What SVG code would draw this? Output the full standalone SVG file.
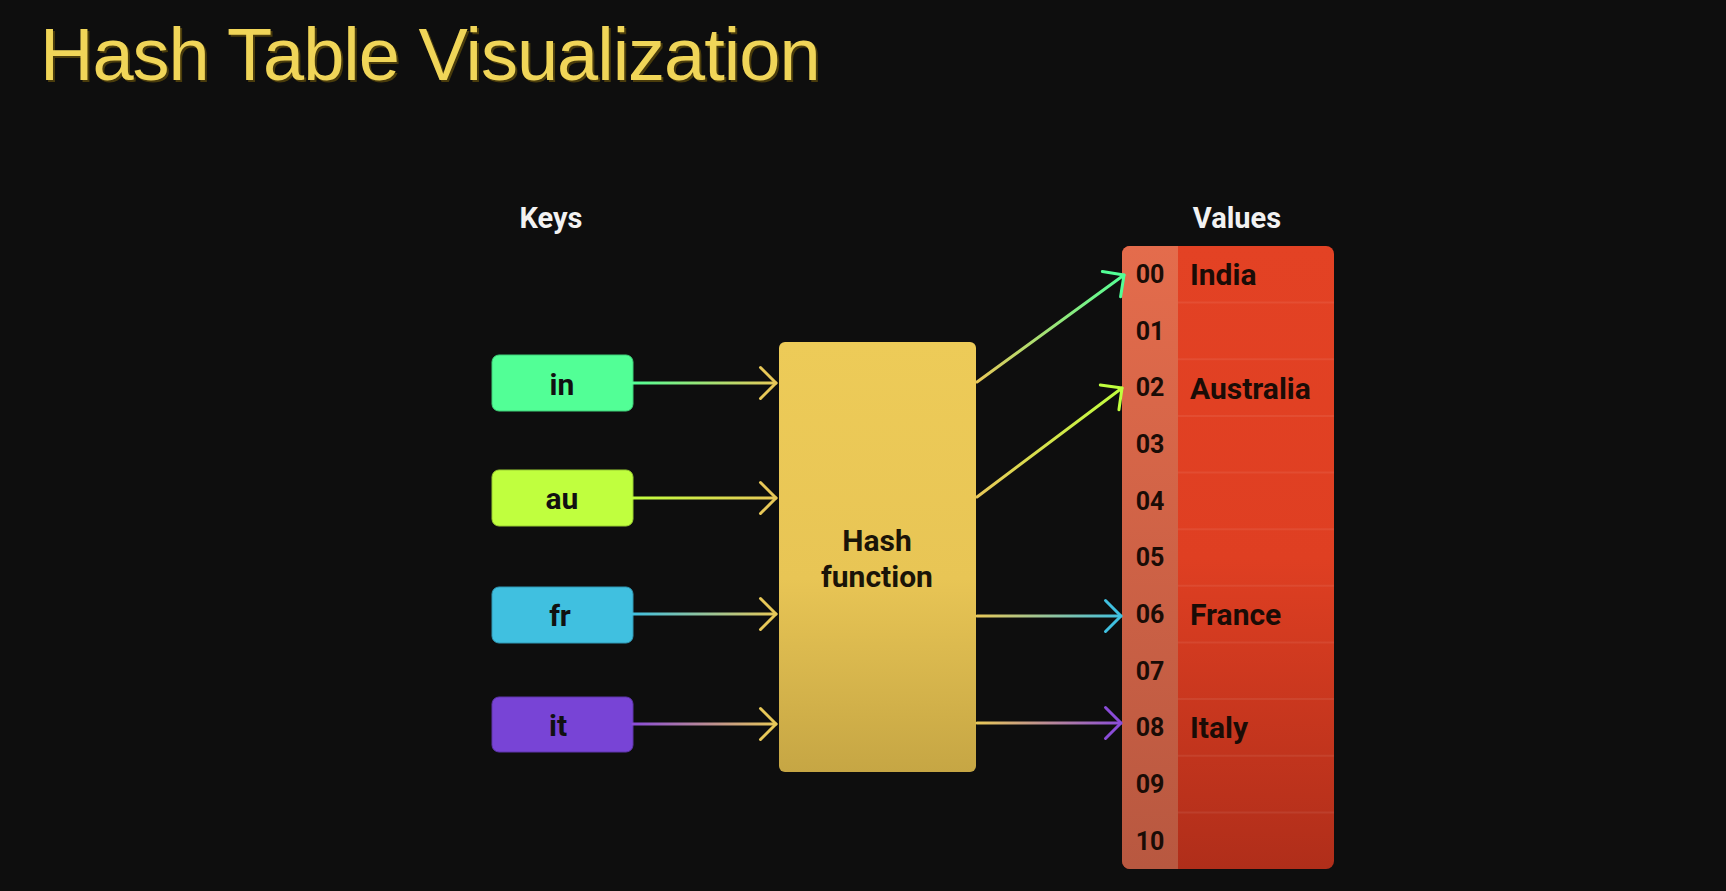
<svg xmlns="http://www.w3.org/2000/svg" width="1726" height="891" viewBox="0 0 1726 891">
<style>
.title{font-family:"Liberation Sans",Arial,sans-serif;font-size:74px;letter-spacing:-1px;}
.hdr{font-family:Roboto,"Noto Sans",sans-serif;font-weight:bold;font-size:29px;fill:#f2f2f2;text-anchor:middle;}
.key{font-family:Roboto,"Noto Sans",sans-serif;font-weight:bold;font-size:30px;fill:#111;text-anchor:middle;}
.hf{font-family:Roboto,"Noto Sans",sans-serif;font-weight:bold;font-size:30px;fill:#1a1408;text-anchor:middle;}
.idx{font-family:Roboto,"Noto Sans",sans-serif;font-weight:bold;font-size:25px;fill:#1a0c06;text-anchor:middle;}
.val{font-family:Roboto,"Noto Sans",sans-serif;font-weight:bold;font-size:30px;fill:#1a0c06;}
.ln{stroke-width:3;fill:none;stroke-linecap:round;}
.sep{stroke:#ffffff;stroke-opacity:0.07;stroke-width:2;}
</style>
<defs>
<linearGradient id="gHash" x1="0" y1="0" x2="0" y2="1"><stop offset="0" stop-color="#edcb58"/><stop offset="0.55" stop-color="#e8c555"/><stop offset="1" stop-color="#c6a644"/></linearGradient>
<linearGradient id="gIdx" x1="0" y1="0" x2="0" y2="1"><stop offset="0" stop-color="#e46c4c"/><stop offset="1" stop-color="#b85840"/></linearGradient>
<linearGradient id="gVal" x1="0" y1="0" x2="0" y2="1"><stop offset="0" stop-color="#e34224"/><stop offset="0.5" stop-color="#df3f22"/><stop offset="1" stop-color="#b02e1a"/></linearGradient>
<linearGradient id="l1" gradientUnits="userSpaceOnUse" x1="633" y1="0" x2="776" y2="0"><stop offset="0" stop-color="#52ff96"/><stop offset="1" stop-color="#e8c858"/></linearGradient>
<linearGradient id="l2" gradientUnits="userSpaceOnUse" x1="633" y1="0" x2="776" y2="0"><stop offset="0" stop-color="#c0ff3e"/><stop offset="1" stop-color="#e8c858"/></linearGradient>
<linearGradient id="l3" gradientUnits="userSpaceOnUse" x1="633" y1="0" x2="776" y2="0"><stop offset="0" stop-color="#40c0e0"/><stop offset="1" stop-color="#e8c858"/></linearGradient>
<linearGradient id="l4" gradientUnits="userSpaceOnUse" x1="633" y1="0" x2="776" y2="0"><stop offset="0" stop-color="#8a4cd8"/><stop offset="1" stop-color="#e8c858"/></linearGradient>
<linearGradient id="r1" gradientUnits="userSpaceOnUse" x1="977" y1="382" x2="1124" y2="275"><stop offset="0" stop-color="#e8c858"/><stop offset="1" stop-color="#52ff96"/></linearGradient>
<linearGradient id="r2" gradientUnits="userSpaceOnUse" x1="977" y1="497" x2="1122" y2="388"><stop offset="0" stop-color="#e8c858"/><stop offset="1" stop-color="#c0ff3e"/></linearGradient>
<linearGradient id="r3" gradientUnits="userSpaceOnUse" x1="977" y1="0" x2="1121" y2="0"><stop offset="0" stop-color="#e8c858"/><stop offset="1" stop-color="#40c0e0"/></linearGradient>
<linearGradient id="r4" gradientUnits="userSpaceOnUse" x1="977" y1="0" x2="1121" y2="0"><stop offset="0" stop-color="#e8c858"/><stop offset="1" stop-color="#8a4cd8"/></linearGradient>
<marker id="aY" markerUnits="userSpaceOnUse" viewBox="-20 -20 40 40" refX="0" refY="0" markerWidth="40" markerHeight="40" orient="auto"><path d="M-15.5,-15.5 L0,0 L-15.5,15.5" fill="none" stroke="#e8c858" stroke-width="3" stroke-linecap="round" stroke-linejoin="round"/></marker>
<marker id="aG" markerUnits="userSpaceOnUse" viewBox="-20 -20 40 40" refX="0" refY="0" markerWidth="40" markerHeight="40" orient="auto"><path d="M-15.5,-15.5 L0,0 L-15.5,15.5" fill="none" stroke="#52ff96" stroke-width="3" stroke-linecap="round" stroke-linejoin="round"/></marker>
<marker id="aL" markerUnits="userSpaceOnUse" viewBox="-20 -20 40 40" refX="0" refY="0" markerWidth="40" markerHeight="40" orient="auto"><path d="M-15.5,-15.5 L0,0 L-15.5,15.5" fill="none" stroke="#c0ff3e" stroke-width="3" stroke-linecap="round" stroke-linejoin="round"/></marker>
<marker id="aC" markerUnits="userSpaceOnUse" viewBox="-20 -20 40 40" refX="0" refY="0" markerWidth="40" markerHeight="40" orient="auto"><path d="M-15.5,-15.5 L0,0 L-15.5,15.5" fill="none" stroke="#40c0e0" stroke-width="3" stroke-linecap="round" stroke-linejoin="round"/></marker>
<marker id="aP" markerUnits="userSpaceOnUse" viewBox="-20 -20 40 40" refX="0" refY="0" markerWidth="40" markerHeight="40" orient="auto"><path d="M-15.5,-15.5 L0,0 L-15.5,15.5" fill="none" stroke="#8a4cd8" stroke-width="3" stroke-linecap="round" stroke-linejoin="round"/></marker>
</defs>
<rect width="1726" height="891" fill="#0e0e0e"/>

<g id="title">
<text class="title" x="42" y="82" fill="#4a3c0c">Hash Table Visualization</text>
<text class="title" x="40" y="80" fill="#f0d558">Hash Table Visualization</text>
</g>

<g id="keys-label"><text class="hdr" x="551" y="228">Keys</text></g>
<g id="values-label"><text class="hdr" x="1237" y="228">Values</text></g>

<g id="key-in"><rect x="492" y="355" width="141" height="56" rx="7" fill="#52ff96" stroke="#3fcf78" stroke-width="1"/><text class="key" x="562" y="395">in</text></g>
<g id="key-au"><rect x="492" y="470" width="141" height="56" rx="7" fill="#c0ff3e" stroke="#98cc30" stroke-width="1"/><text class="key" x="562" y="509">au</text></g>
<g id="key-fr"><rect x="492" y="587" width="141" height="56" rx="7" fill="#40c0e0" stroke="#3098b4" stroke-width="1"/><text class="key" x="560" y="626">fr</text></g>
<g id="key-it"><rect x="492" y="697" width="141" height="55" rx="7" fill="#7844d6" stroke="#5e34aa" stroke-width="1"/><text class="key" x="558" y="736">it</text></g>

<g id="hash-function">
<rect x="779" y="342" width="197" height="430" rx="6" fill="url(#gHash)"/>
<text class="hf" x="877" y="551">Hash</text>
<text class="hf" x="877" y="587">function</text>
</g>

<g id="table">
<rect x="1122" y="246" width="212" height="623" rx="8" fill="url(#gVal)"/>
<path d="M1130,246 H1178 V869 H1130 A8,8 0 0 1 1122,861 V254 A8,8 0 0 1 1130,246 Z" fill="url(#gIdx)"/>
<g>
<line class="sep" x1="1178" y1="302.6" x2="1334" y2="302.6"/>
<line class="sep" x1="1178" y1="359.3" x2="1334" y2="359.3"/>
<line class="sep" x1="1178" y1="415.9" x2="1334" y2="415.9"/>
<line class="sep" x1="1178" y1="472.5" x2="1334" y2="472.5"/>
<line class="sep" x1="1178" y1="529.2" x2="1334" y2="529.2"/>
<line class="sep" x1="1178" y1="585.8" x2="1334" y2="585.8"/>
<line class="sep" x1="1178" y1="642.5" x2="1334" y2="642.5"/>
<line class="sep" x1="1178" y1="699.1" x2="1334" y2="699.1"/>
<line class="sep" x1="1178" y1="755.7" x2="1334" y2="755.7"/>
<line class="sep" x1="1178" y1="812.4" x2="1334" y2="812.4"/>
</g>
<g>
<text class="idx" x="1150" y="283">00</text>
<text class="idx" x="1150" y="340">01</text>
<text class="idx" x="1150" y="396">02</text>
<text class="idx" x="1150" y="453">03</text>
<text class="idx" x="1150" y="510">04</text>
<text class="idx" x="1150" y="566">05</text>
<text class="idx" x="1150" y="623">06</text>
<text class="idx" x="1150" y="680">07</text>
<text class="idx" x="1150" y="736">08</text>
<text class="idx" x="1150" y="793">09</text>
<text class="idx" x="1150" y="850">10</text>
</g>
<text class="val" x="1190" y="285">India</text>
<text class="val" x="1190" y="399">Australia</text>
<text class="val" x="1190" y="625">France</text>
<text class="val" x="1190" y="738">Italy</text>
</g>

<g id="connectors">
<line class="ln" x1="633" y1="383" x2="776" y2="383" stroke="url(#l1)" marker-end="url(#aY)"/>
<line class="ln" x1="633" y1="498" x2="776" y2="498" stroke="url(#l2)" marker-end="url(#aY)"/>
<line class="ln" x1="633" y1="614" x2="776" y2="614" stroke="url(#l3)" marker-end="url(#aY)"/>
<line class="ln" x1="633" y1="724" x2="776" y2="724" stroke="url(#l4)" marker-end="url(#aY)"/>
<line class="ln" x1="977" y1="382" x2="1124" y2="275" stroke="url(#r1)" marker-end="url(#aG)"/>
<line class="ln" x1="977" y1="497" x2="1122" y2="388" stroke="url(#r2)" marker-end="url(#aL)"/>
<line class="ln" x1="977" y1="616" x2="1121" y2="616" stroke="url(#r3)" marker-end="url(#aC)"/>
<line class="ln" x1="977" y1="723" x2="1121" y2="723" stroke="url(#r4)" marker-end="url(#aP)"/>
</g>
</svg>
